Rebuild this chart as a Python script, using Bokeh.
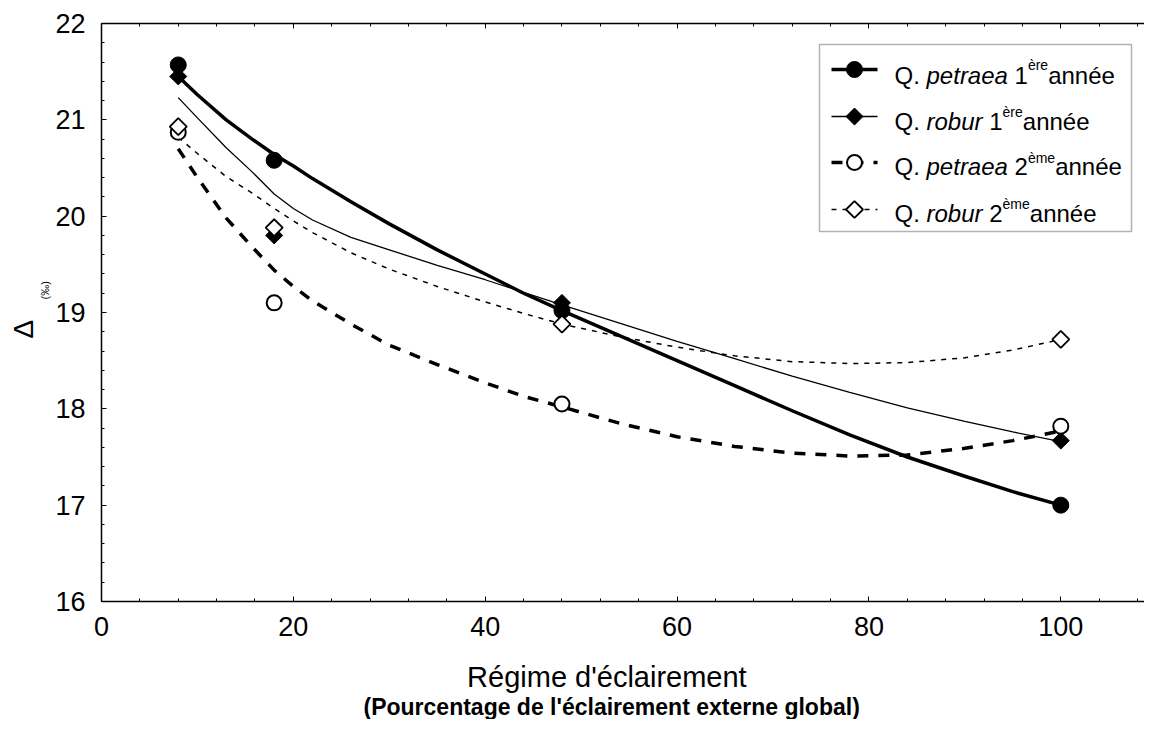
import numpy as np
from bokeh.plotting import figure
from bokeh.models import Label, LinearAxis, SingleIntervalTicker, Title, BoxAnnotation
from bokeh.embed import file_html
from bokeh.resources import INLINE

# ---------------- data ----------------
light = [8, 18, 48, 100]
petraea_1 = [21.57, 20.58, 19.02, 17.00]
robur_1 = [21.45, 19.80, 19.10, 17.67]
petraea_2 = [20.87, 19.10, 18.05, 17.82]
robur_2 = [20.93, 19.88, 18.88, 18.72]

# fitted (smoothed) curves as drawn in the picture
fit_x = [8, 10, 13, 15.7, 18, 20, 22, 26, 30, 35, 40, 44, 48, 54, 60, 66, 72, 78, 84, 90, 95, 100]
fit_petraea_1 = [21.45, 21.26, 21.00, 20.80, 20.64, 20.52, 20.39, 20.15, 19.92, 19.65, 19.40,
                 19.20, 19.02, 18.76, 18.50, 18.24, 17.98, 17.73, 17.50, 17.30, 17.14, 17.00]
fit_robur_1 = [21.23, 21.02, 20.71, 20.46, 20.23, 20.08, 19.96, 19.78, 19.65, 19.49, 19.34,
               19.21, 19.08, 18.89, 18.70, 18.52, 18.34, 18.17, 18.01, 17.87, 17.76, 17.66]
fit_petraea_2 = [20.70, 20.40, 19.98, 19.68, 19.44, 19.27, 19.12, 18.88, 18.66, 18.46, 18.27,
                 18.13, 18.02, 17.85, 17.71, 17.61, 17.54, 17.51, 17.52, 17.59, 17.67, 17.77]
fit_robur_2 = [20.82, 20.65, 20.41, 20.24, 20.08, 19.95, 19.83, 19.62, 19.45, 19.27, 19.11,
               18.99, 18.88, 18.75, 18.64, 18.55, 18.49, 18.47, 18.48, 18.53, 18.61, 18.72]

legend_species = ["petraea", "robur", "petraea", "robur"]
legend_year = ["1", "1", "2", "2"]
legend_sup = ["ère", "ère", "ème", "ème"]
x_title = "Régime d'éclairement"
x_subtitle = "(Pourcentage de l'éclairement externe global)"
y_title = "Δ"
y_unit = "(‰)"

# ---------------- geometry (picture pixels) ----------------
O = 1                                   # figure origin in the picture
W, H = 1144, 719
FL, FT, FR, FB = 102, 24, O + W, 602    # frame
Y0, Y1 = 16, 22
PX_X = 9.593                            # pixels per x unit (0 -> 102, 100 -> 1061)
X_END = (FR - FL) / PX_X
PX_Y = (FB - FT) / (Y1 - Y0)


def dx(px):
    return (px - FL) / PX_X


def dy(py):
    return Y1 - (py - FT) / PX_Y


FONT = "Liberation Sans"

p = figure(width=W, height=H, x_range=(0, X_END), y_range=(Y0, Y1),
           output_backend="svg", toolbar_location=None,
           min_border_left=FL - O, min_border_right=0,
           min_border_top=FT - O, min_border_bottom=(O + H) - FB)
p.outline_line_color = None
p.xgrid.visible = False
p.ygrid.visible = False
p.background_fill_color = "white"
p.border_fill_color = "white"

for ax, ticker in ((p.xaxis[0], SingleIntervalTicker(interval=20, num_minor_ticks=5)),
                   (p.yaxis[0], SingleIntervalTicker(interval=1, num_minor_ticks=5))):
    ax.ticker = ticker
    ax.axis_line_width = 1.5
    ax.axis_line_color = "black"
    ax.major_tick_in = 5
    ax.major_tick_out = 0
    ax.minor_tick_in = 3
    ax.minor_tick_out = 0
    ax.major_tick_line_color = "black"
    ax.minor_tick_line_color = "black"
    ax.major_label_text_font = FONT
    ax.major_label_text_font_size = "27px"
    ax.major_label_text_color = "black"
p.xaxis.major_label_standoff = 15
p.yaxis.major_label_standoff = 16

# trailing no-break spaces shift the centred title slightly left, as in the original
p.xaxis.axis_label = x_title + "\u00a0" * 4
p.xaxis.axis_label_text_font = FONT
p.xaxis.axis_label_text_font_size = "29px"
p.xaxis.axis_label_text_font_style = "normal"
p.xaxis.axis_label_text_color = "black"

top = LinearAxis(ticker=SingleIntervalTicker(interval=20, num_minor_ticks=5),
                 axis_line_width=1.5, major_tick_in=5, major_tick_out=0,
                 minor_tick_in=3, minor_tick_out=0,
                 major_label_text_font_size="0px", major_label_text_color=None,
                 major_label_standoff=0)
p.add_layout(top, "above")

sub_kw = dict(text=x_subtitle, align="left", offset=262, vertical_align="top",
              text_font=FONT, text_font_size="23px", text_font_style="bold", text_color="black")
try:
    subtitle = Title(standoff=-4, **sub_kw)
    p.xaxis.axis_label_standoff = 22
except Exception:
    subtitle = Title(standoff=0, **sub_kw)
    p.xaxis.axis_label_standoff = 18
p.add_layout(subtitle, "below")

p.add_layout(Title(text=y_unit, align="left", offset=302, standoff=0, vertical_align="top",
                   text_font=FONT, text_font_size="11px", text_font_style="normal",
                   text_color="black"), "left")
p.add_layout(Title(text=y_title, align="left", offset=263, standoff=0, vertical_align="bottom",
                   text_font=FONT, text_font_size="28px", text_font_style="normal",
                   text_color="black"), "left")

# ---------------- styles ----------------
line_styles = [dict(line_width=3.5, line_color="black", line_join="round"),
               dict(line_width=1.3, line_color="black"),
               dict(line_width=3.5, line_color="black", line_dash="11 10"),
               dict(line_width=1.5, line_color="black", line_dash="5 6")]
marker_styles = [dict(marker="circle", size=16, fill_color="black", line_color="black"),
                 dict(marker="square", angle=np.pi / 4, size=12, fill_color="black",
                      line_color="black"),
                 dict(marker="circle", size=15, fill_color="white", line_color="black",
                      line_width=2),
                 dict(marker="square", angle=np.pi / 4, size=12, fill_color="white",
                      line_color="black", line_width=1.8)]

fits = [fit_petraea_1, fit_robur_1, fit_petraea_2, fit_robur_2]
points = [petraea_1, robur_1, petraea_2, robur_2]

# ---------------- curves ----------------
for fit, ls in zip(fits, line_styles):
    p.line(fit_x, fit, **ls)

# ---------------- points ----------------
for k in (1, 0, 2, 3):
    p.scatter(light, points[k], **marker_styles[k])

# ---------------- legend ----------------
LEG_L, LEG_R, LEG_T, LEG_B = 820, 1132, 45, 232
p.add_layout(BoxAnnotation(left=dx(LEG_L), right=dx(LEG_R), top=dy(LEG_T), bottom=dy(LEG_B),
                           fill_color=None, line_color="black", line_width=1.5))
row_y = [70, 117, 163, 210]
for k in range(4):
    p.line([dx(832), dx(878)], [dy(row_y[k])] * 2, **line_styles[k])
    p.scatter([dx(855)], [dy(row_y[k])], **marker_styles[k])

# legend texts with italics and superscripts (Arial/Liberation advance widths)
AW = {'Q': 778, '.': 278, ' ': 278, 'p': 556, 'e': 556, 't': 278, 'r': 333, 'a': 556,
      'o': 556, 'b': 556, 'u': 556, '1': 556, '2': 556, 'è': 556, 'm': 833, 'n': 556, 'é': 556}


def tw(s, size):
    return sum(AW.get(c, 556) for c in s) * size / 1000.0


main_mid = [76, 122, 167, 214]
sup_mid = [65, 112, 158, 204]
for k in range(4):
    segs = [("Q. ", 24, "normal", main_mid[k]),
            (legend_species[k], 24, "italic", main_mid[k]),
            (" " + legend_year[k], 24, "normal", main_mid[k]),
            (legend_sup[k], 14, "normal", sup_mid[k]),
            ("année", 24, "normal", main_mid[k])]
    x = 895.0
    for text, size, style, mid in segs:
        lead = len(text) - len(text.lstrip(" "))
        p.add_layout(Label(x=dx(x + tw(" " * lead, size)), y=dy(mid), text=text.strip(),
                           text_font=FONT, text_font_size=f"{size}px", text_font_style=style,
                           text_color="black", text_align="left", text_baseline="middle"))
        x += tw(text, size)

open("out.html", "w").write(file_html(p, INLINE))
